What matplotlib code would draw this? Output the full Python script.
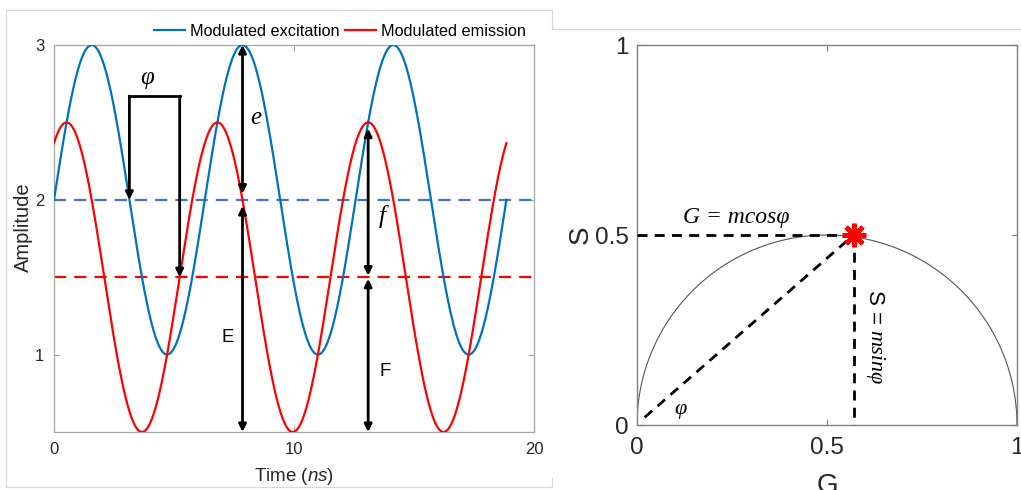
import numpy as np
import matplotlib
matplotlib.use("Agg")
import matplotlib.pyplot as plt
from matplotlib.lines import Line2D

plt.rcParams['font.family'] = ['Liberation Sans', 'DejaVu Sans']
plt.rcParams['mathtext.fontset'] = 'custom'
plt.rcParams['mathtext.rm'] = 'Liberation Sans'
plt.rcParams['mathtext.it'] = 'Liberation Sans:italic'

# ---------------- data ----------------
# modulated signals (sinusoids): offset, amplitude, angular frequency (rad/ns), phase (rad)
exc_offset, exc_amp, exc_omega, exc_phase = 2.0, 1.0, 1.0, 0.0
emi_offset, emi_amp, emi_omega, emi_phase = 1.5, 1.0, 1.0, np.pi / 3
t_start, t_end = 0.0, 6 * np.pi

x_ticks = [0, 10, 20]
y_ticks = [1, 2, 3]
x_lim = [0, 20]
y_lim = [0.5, 3]
legend_labels = ["Modulated excitation", "Modulated emission"]

# phasor plot
phasor_G = 0.57
phasor_S = 0.5
phasor_ticks = [0, 0.5, 1]
phasor_ticklabels = ["0", "0.5", "1"]

# ---------------- figure ----------------
fig = plt.figure(figsize=(10.21, 4.90), dpi=100)
W, H = 1021, 490
ax1 = fig.add_axes([54 / W, 1 - 432 / H, 480 / W, 387 / H])
ax2 = fig.add_axes([637 / W, 1 - 425 / H, 380 / W, 380 / H])

# faint screenshot frames
frame_col = '#d9d9d9'
fig.add_artist(Line2D([6 / W, 6 / W, 552 / W, 552 / W, 1.0],
                      [1 - 487 / H, 1 - 10 / H, 1 - 10 / H, 1 - 29 / H, 1 - 29 / H],
                      transform=fig.transFigure, color=frame_col, lw=0.9))
fig.add_artist(Line2D([6 / W, 552 / W, 552 / W],
                      [1 - 487 / H, 1 - 487 / H, 1 - 478 / H],
                      transform=fig.transFigure, color=frame_col, lw=0.9))

serif_it = dict(family=['Liberation Serif', 'DejaVu Serif'], style='italic')

# ---------------- left panel ----------------
t = np.linspace(t_start, t_end, 800)
exc = exc_offset + exc_amp * np.sin(exc_omega * t + exc_phase)
emi = emi_offset + emi_amp * np.sin(emi_omega * t + emi_phase)

blue = '#0072BD'
red = '#FF0000'
l1, = ax1.plot(t, exc, color=blue, lw=1.6, zorder=3)
l2, = ax1.plot(t, emi, color=red, lw=1.6, zorder=3)
ax1.axhline(exc_offset, color='#4472C4', lw=1.6, ls=(0, (5.5, 3.6)), zorder=2)
ax1.axhline(emi_offset, color=red, lw=1.6, ls=(0, (5.5, 3.6)), zorder=2)

ax1.set_xlim(x_lim)
ax1.set_ylim(y_lim)
ax1.set_xticks(x_ticks)
ax1.set_yticks(y_ticks)
for s in ax1.spines.values():
    s.set_color('#a6a6a6')
    s.set_linewidth(0.9)
ax1.tick_params(direction='in', length=4, width=0.8, color='#a6a6a6',
                labelsize=12, labelcolor='#262626', top=True, right=True, pad=7)
ax1.set_xlabel(r'Time ($\mathit{ns}$)', fontsize=13.5, color='#262626', labelpad=7)
ax1.set_ylabel('Amplitude', fontsize=14.5, color='#262626')
ax1.yaxis.set_label_coords(-0.043, 0.53)

fig.legend([l1, l2], legend_labels, loc='center left',
           bbox_to_anchor=(154 / W, 1 - 31 / H), bbox_transform=fig.transFigure,
           ncol=2, frameon=False, fontsize=11.7, handlelength=1.9,
           handletextpad=0.3, columnspacing=0.35, borderpad=0, borderaxespad=0)

# annotation geometry derived from the curves
t_exc_down = (np.pi - exc_phase) / exc_omega                 # excitation crosses its mean downward
t_emi_up = (2 * np.pi - emi_phase) / emi_omega               # emission crosses its mean upward
t_exc_peak = (2 * np.pi + np.pi / 2 - exc_phase) / exc_omega  # second excitation peak
t_emi_peak = (4 * np.pi + np.pi / 2 - emi_phase) / emi_omega  # third emission peak
bracket_top = 2.67

alw = 2.0
def arrow(ax, x0, y0, x1, y1, style='-|>'):
    ax.annotate('', xy=(x1, y1), xytext=(x0, y0),
                arrowprops=dict(arrowstyle=style, color='black', lw=alw,
                                shrinkA=0, shrinkB=0, mutation_scale=11),
                zorder=5)

# phase bracket
ax1.plot([t_exc_down, t_emi_up], [bracket_top, bracket_top], color='black', lw=alw,
         solid_capstyle='projecting', zorder=5)
arrow(ax1, t_exc_down, bracket_top, t_exc_down, exc_offset)
arrow(ax1, t_emi_up, bracket_top, t_emi_up, emi_offset)
ax1.text((t_exc_down + t_emi_up) / 2 - 0.3, bracket_top + 0.12, '\u03c6',
         fontsize=18, ha='center', va='center', **serif_it)

# e and E
arrow(ax1, t_exc_peak, exc_offset + 0.04, t_exc_peak, exc_offset + exc_amp, '<|-|>')
arrow(ax1, t_exc_peak, exc_offset - 0.04, t_exc_peak, y_lim[0], '<|-|>')
ax1.text(t_exc_peak + 0.55, 2.53, 'e', fontsize=18, ha='center', va='center', **serif_it)
ax1.text(t_exc_peak - 0.6, 1.11, 'E', fontsize=13.5, ha='center', va='center')

# f and F
arrow(ax1, t_emi_peak, emi_offset + 0.01, t_emi_peak, emi_offset + emi_amp - 0.04, '<|-|>')
arrow(ax1, t_emi_peak, emi_offset - 0.01, t_emi_peak, y_lim[0], '<|-|>')
ax1.text(t_emi_peak + 0.6, 1.89, 'f', fontsize=18, ha='center', va='center', **serif_it)
ax1.text(t_emi_peak + 0.72, 0.89, 'F', fontsize=13.5, ha='center', va='center')

# ---------------- right panel ----------------
theta = np.linspace(0, np.pi, 400)
ax2.plot(0.5 + 0.5 * np.cos(theta), 0.5 * np.sin(theta), color='#555555', lw=0.8, zorder=2)

dash = (0, (3.6, 2.6))
ax2.plot([0, phasor_G], [phasor_S, phasor_S], color='black', lw=2.0, ls=dash, zorder=3)
ax2.plot([phasor_G, phasor_G], [phasor_S, 0], color='black', lw=2.0, ls=dash, zorder=3)
ax2.plot([0.02, phasor_G], [0.02, phasor_S], color='black', lw=2.0, ls=dash, zorder=3)
ax2.plot([phasor_G], [phasor_S], marker=(8, 2, 0), color=red, ms=17, mew=3.2, zorder=4)

ax2.text(0.26, 0.545, 'G = mcos\u03c6', fontsize=17, ha='center', va='center', **serif_it)
ax2.text(0.115, 0.04, '\u03c6', fontsize=16, ha='center', va='center', **serif_it)

ax2.set_xlim(0, 1)
ax2.set_ylim(0, 1)
ax2.set_xticks(phasor_ticks)
ax2.set_yticks(phasor_ticks)
ax2.set_xticklabels(phasor_ticklabels)
ax2.set_yticklabels(phasor_ticklabels)
for s in ax2.spines.values():
    s.set_color('#808080')
    s.set_linewidth(1.0)
ax2.tick_params(direction='in', length=4, width=0.8, color='#808080',
                labelsize=17.5, labelcolor='#262626', top=True, right=True, pad=6)
ax2.tick_params(axis='x', pad=9)
ax2.set_xlabel('G', fontsize=20, color='#262626', labelpad=10)
ax2.set_ylabel('S', fontsize=20, color='#262626', labelpad=1)

# rotated "S = msinφ" : upright sans "S =" followed by serif italic "msinφ"
sx_data, sy_top = 0.625, 0.355
t_s = ax2.text(sx_data, sy_top, 'S = ', fontsize=16, ha='left', va='center',
               rotation=-90, rotation_mode='anchor')
fig.canvas.draw()
bb = t_s.get_window_extent(renderer=fig.canvas.get_renderer())
px, py = ax2.transData.transform((sx_data, sy_top))
nx, ny = ax2.transData.inverted().transform((px, py - bb.height))
ax2.text(nx, ny, 'msin\u03c6', fontsize=16, ha='left', va='center',
         rotation=-90, rotation_mode='anchor', **serif_it)

fig.savefig('out.png', dpi=100)
